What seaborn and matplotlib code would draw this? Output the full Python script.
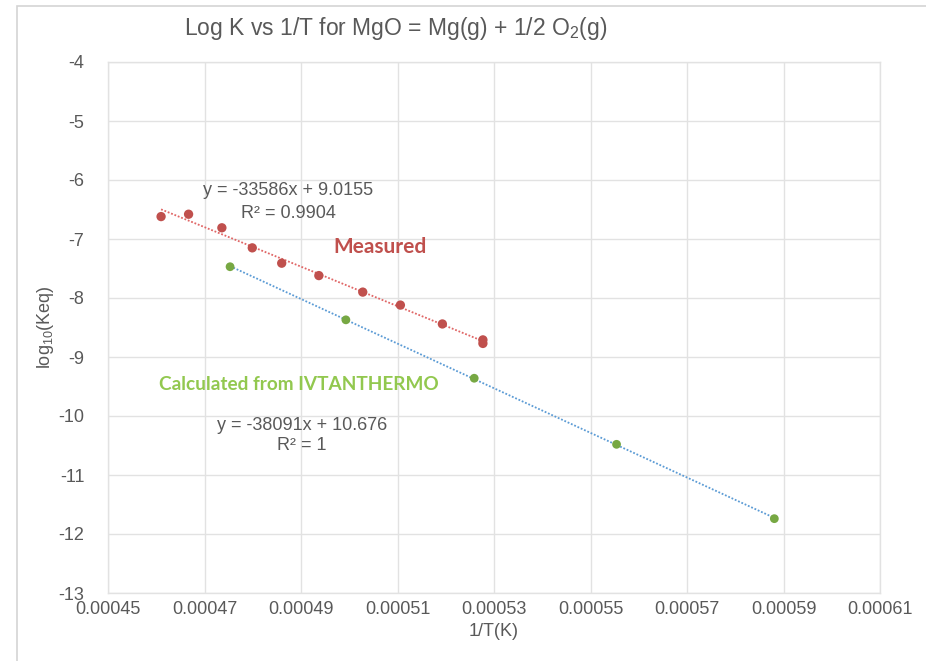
import matplotlib
matplotlib.use("Agg")
import matplotlib.pyplot as plt
import seaborn as sns
import numpy as np
import pandas as pd
from matplotlib.patches import Rectangle

# ---- data ----
meas_x = [0.000461, 0.0004667, 0.0004736, 0.0004799, 0.000486, 0.0004937,
          0.0005028, 0.0005106, 0.0005193, 0.0005277, 0.0005277]
meas_y = [-6.62, -6.58, -6.81, -7.15, -7.41, -7.62, -7.90, -8.12, -8.44, -8.71, -8.77]
calc_x = [0.0004753, 0.0004993, 0.0005259, 0.0005554, 0.0005881]
calc_y = [-7.47, -8.37, -9.36, -10.48, -11.74]
x_ticks = [0.00045, 0.00047, 0.00049, 0.00051, 0.00053, 0.00055, 0.00057, 0.00059, 0.00061]
x_tick_labels = ["0.00045", "0.00047", "0.00049", "0.00051", "0.00053",
                 "0.00055", "0.00057", "0.00059", "0.00061"]
y_ticks = [-13, -12, -11, -10, -9, -8, -7, -6, -5, -4]
title = "Log K vs 1/T for MgO = Mg(g) + 1/2 O$_2$(g)"
eq_meas = ["y = -33586x + 9.0155", "R² = 0.9904"]
eq_calc = ["y = -38091x + 10.676", "R² = 1"]

meas = pd.DataFrame({"x": meas_x, "y": meas_y})
calc = pd.DataFrame({"x": calc_x, "y": calc_y})

sns.set_theme(style="white")
plt.rcParams["font.family"] = ["Liberation Sans", "DejaVu Sans"]
plt.rcParams["mathtext.default"] = "regular"

GRAY = "#595959"
GRID = "#e2e2e2"
RED = "#c0504d"
GREEN = "#77a843"

fig = plt.figure(figsize=(9.26, 6.61), dpi=100)
ax = fig.add_axes([108/926, 1-593/661, (880-108)/926, (593-62)/661])

# outer frame
fig.patches.append(Rectangle((17/926, -0.05), 1.2, 1-6/661+0.05, transform=fig.transFigure,
                             fill=False, edgecolor="#d4d4d4", linewidth=1.2))

sns.regplot(data=meas, x="x", y="y", ax=ax, scatter=False, ci=None, truncate=True,
            line_kws=dict(color="#e06666", linestyle=(0, (1, 1)), linewidth=1.3))
sns.regplot(data=calc, x="x", y="y", ax=ax, scatter=False, ci=None, truncate=True,
            line_kws=dict(color="#5b9bd5", linestyle=(0, (1, 1)), linewidth=1.3))
sns.scatterplot(data=meas, x="x", y="y", ax=ax, color=RED, s=45, edgecolor="none", zorder=5)
sns.scatterplot(data=calc, x="x", y="y", ax=ax, color=GREEN, s=40, edgecolor="none", zorder=5)

ax.set_xlim(0.00045, 0.00061)
ax.set_ylim(-13, -4)
ax.set_xticks(x_ticks)
ax.set_xticklabels(x_tick_labels)
ax.set_yticks(y_ticks)
ax.set_yticklabels([str(v) for v in y_ticks])
ax.grid(True, color=GRID, linewidth=1.0)
ax.set_axisbelow(True)
for sp in ax.spines.values():
    sp.set_color(GRID)
    sp.set_linewidth(1.0)
ax.tick_params(axis="both", length=0, colors=GRAY, labelsize=13)
ax.tick_params(axis="y", pad=17)
ax.tick_params(axis="x", pad=6)

ax.set_xlabel("1/T(K)", fontsize=13, color=GRAY, labelpad=3)
ax.set_ylabel("log$_{10}$(Keq)", fontsize=13, color=GRAY)
ax.yaxis.set_label_coords((56-108)/772, 0.5)

fig.text(396/926, 1-28/661, title, ha="center", va="center", fontsize=16.5,
         color=GRAY, family=["Liberation Sans Narrow", "Liberation Sans", "DejaVu Sans"])

def px(x, y):
    return (x/926, 1-y/661)

fig.text(*px(288, 191), eq_meas[0], ha="center", va="center", fontsize=13, color=GRAY)
fig.text(*px(288, 213), eq_meas[1], ha="center", va="center", fontsize=13, color=GRAY)
fig.text(*px(302, 425), eq_calc[0], ha="center", va="center", fontsize=13, color=GRAY)
fig.text(*px(302, 446), eq_calc[1], ha="center", va="center", fontsize=13, color=GRAY)
fig.text(*px(380, 247), "Measured", ha="center", va="center", fontsize=15,
         color=RED, fontweight="bold", family=["Lato", "DejaVu Sans"])
fig.text(*px(299, 385), "Calculated from IVTANTHERMO", ha="center", va="center", fontsize=13.7,
         color="#92c84f", fontweight="bold", family=["Lato", "DejaVu Sans"])

fig.savefig("out.png", dpi=100, facecolor="white")
